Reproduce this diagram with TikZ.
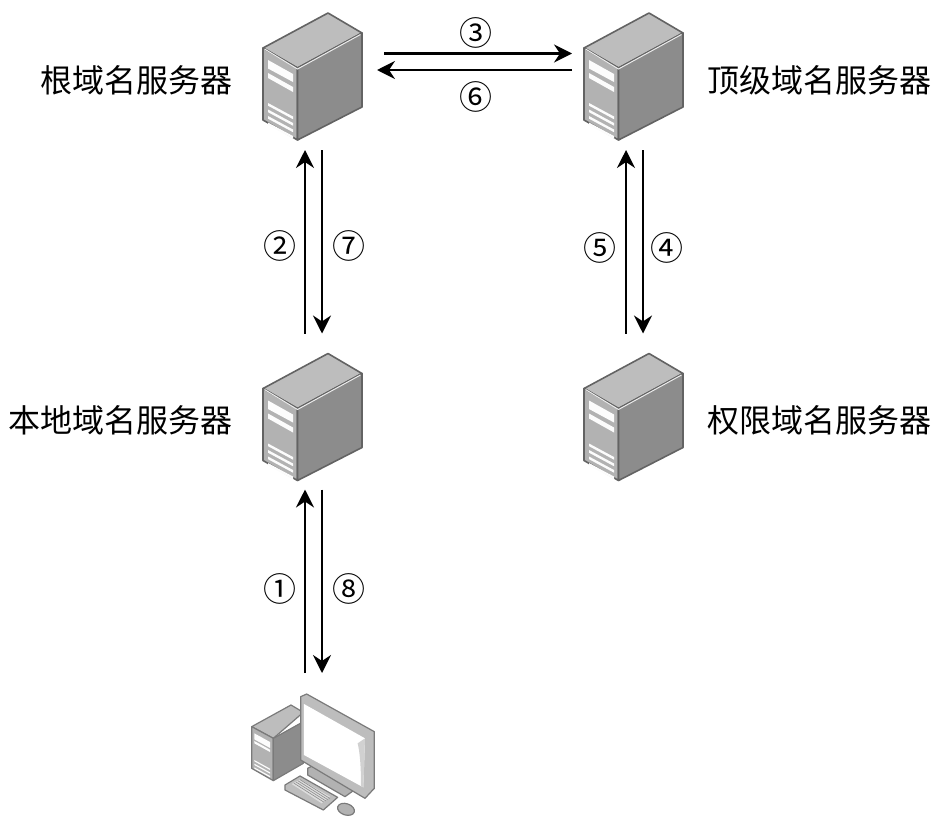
\documentclass[tikz,border=0pt]{standalone}
\usepackage{fontspec}
\setmainfont{Noto Sans CJK SC}
\usetikzlibrary{arrows.meta}
\definecolor{srvedge}{HTML}{636363}
\definecolor{pcedge}{HTML}{7A7A7A}
\definecolor{srvtop}{HTML}{BDBDBD}
\definecolor{srvleft}{HTML}{B2B2B2}
\definecolor{srvright}{HTML}{8C8C8C}
\tikzset{
  x=1pt,y=-1pt,
  flow/.style={line width=2.1pt,-{Stealth[length=18pt,width=18pt,inset=6pt]}},
  hostbox/.style={minimum width=99pt,minimum height=127pt,inner sep=0pt,outer sep=0pt},
  pcbox/.style={minimum width=130pt,minimum height=112pt,inner sep=0pt,outer sep=0pt},
  label/.style={inner sep=0pt,font=\fontsize{32}{36}\selectfont},
  num/.style={inner sep=0pt,font=\fontsize{33}{36}\selectfont},
  face/.style={draw=srvedge,line width=1.6pt,line join=round},
  thinface/.style={draw=pcedge,line width=1.2pt,line join=round},
  stripe/.style={fill=white!96!srvleft,draw=none},
  server art/.pic={
    \path[face,fill=srvtop] (-49.5,-28.5) -- (15.5,-63.5) -- (49.5,-43.5) -- (-15,-8.5) -- cycle;
    \path[face,fill=srvleft] (-49.5,-28.5) -- (-15,-8.5) -- (-15,63.5) -- (-49.5,43.5) -- cycle;
    \path[face,fill=srvright] (-15,-8.5) -- (49.5,-43.5) -- (49.5,30.5) -- (-15,63.5) -- cycle;
    \draw[white!75!srvleft,line width=1pt] (-48,-27.5) -- (-15,-7.5) -- (48,-42);
    \fill[stripe] (-44.5,-16.5) -- (-19.5,-2.5) -- (-19.5,5.5) -- (-44.5,-8) -- cycle;
    \fill[stripe] (-44.5,-3.5) -- (-19.5,10.5) -- (-19.5,15.5) -- (-44.5,1.5) -- cycle;
    \foreach \d in {0,6.5,13,19.5}
      \fill[stripe] (-44.5,26.5+\d) -- (-19.5,40+\d) -- (-19.5,42.7+\d) -- (-44.5,29.2+\d) -- cycle;
  },
  pc art/.pic={
    \begin{scope}[shift={(-77,-69)},x=.3333pt,y=-.3333pt]
      % tower
      \path[thinface,fill=srvtop] (50,140) -- (168,75) -- (205,97) -- (115,175) -- cycle;
      \path[thinface,fill=srvleft] (50,140) -- (115,175) -- (115,302) -- (50,265) -- cycle;
      \path[thinface,fill=srvright] (115,175) -- (205,125) -- (205,250) -- (115,302) -- cycle;
      \fill[stripe] (58,160) -- (105,186) -- (105,204) -- (58,178) -- cycle;
      \fill[stripe] (58,183) -- (105,209) -- (105,216) -- (58,190) -- cycle;
      \foreach \d in {0,11,22}
        \fill[stripe] (58,240+\d) -- (105,266+\d) -- (105,270+\d) -- (58,244+\d) -- cycle;
      % stand
      \path[thinface,fill=srvleft] (218,265) -- (235,256) -- (358,330) -- (330,350) -- (218,285) -- cycle;
      % monitor
      \path[thinface,fill=srvtop] (197,50) -- (215,42) -- (418,155) -- (418,325) -- (390,355) -- (197,240) -- cycle;
      \fill[white] (207,72) -- (390,175) -- (385,322) -- (207,225) -- cycle;
      \fill[srvtop!70] (368,190) -- (390,175) -- (385,322) -- (378,318) .. controls (378,260) and (375,220) .. (368,190) -- cycle;
      % keyboard
      \path[thinface,fill=srvtop] (150,315) -- (195,288) -- (308,352) -- (265,390) -- (150,330) -- cycle;
      \fill[white!70!srvright] (170,312) -- (195,298) -- (285,350) -- (260,370) -- cycle;
      \foreach \k in {0,1,2,3}
        \draw[srvright,line width=.6pt] (176+6.2*\k,309-3.5*\k) -- (266+6.2*\k,366-3.5*\k);
      % mouse
      \path[thinface,fill=srvleft,rotate around={-18:(333,388)}] (333,388) ellipse [x radius=26,y radius=17];
    \end{scope}
  }
}
\begin{document}
\begin{tikzpicture}
\useasboundingbox (0,0) rectangle (947,835);
\node[hostbox] (root) at (312.5,76.5) {};
\node[hostbox] (tld) at (633.5,76.5) {};
\node[hostbox] (local) at (312.5,417) {};
\node[hostbox] (auth) at (633.5,417) {};
\node[pcbox] (pc) at (312,749) {};
\pic at (root.center) {server art};
\pic at (tld.center) {server art};
\pic at (local.center) {server art};
\pic at (auth.center) {server art};
\pic at (pc.center) {pc art};
\node[label,anchor=east] (lroot) at (233,80) {根域名服务器};
\node[label,anchor=west] (ltld) at (707,80) {顶级域名服务器};
\node[label,anchor=east] (llocal) at (233,420) {本地域名服务器};
\node[label,anchor=west] (lauth) at (707,420) {权限域名服务器};
\draw[flow] ([shift={(22,-23)}]root.east) -- ([shift={(-12,-23)}]tld.west);
\draw[flow] ([shift={(-12,-6.5)}]tld.west) -- ([shift={(15,-6.5)}]root.east);
\draw[flow] ([shift={(-7.5,-20)}]local.north) -- ([shift={(-7.5,10)}]root.south);
\draw[flow] ([shift={(9.5,10)}]root.south) -- ([shift={(9.5,-20)}]local.north);
\draw[flow] ([shift={(-7.5,-20)}]auth.north) -- ([shift={(-7.5,10)}]tld.south);
\draw[flow] ([shift={(9.5,10)}]tld.south) -- ([shift={(9.5,-20)}]auth.north);
\draw[flow] ([shift={(-7,-20)}]pc.north) -- ([shift={(-7.5,9)}]local.south);
\draw[flow] ([shift={(9.5,9)}]local.south) -- ([shift={(10,-20)}]pc.north);
\node[num] (n3) at (476,33) {③};
\node[num] (n6) at (476,97) {⑥};
\node[num] (n2) at (280,246) {②};
\node[num] (n7) at (349,246) {⑦};
\node[num] (n5) at (600,248) {⑤};
\node[num] (n4) at (667,248) {④};
\node[num] (n1) at (280,589) {①};
\node[num] (n8) at (349,589) {⑧};
\end{tikzpicture}
\end{document}
